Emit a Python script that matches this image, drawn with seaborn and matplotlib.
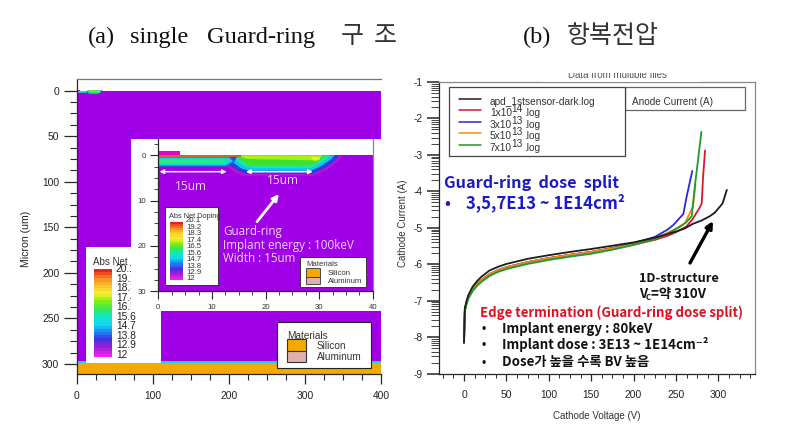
import numpy as np
import pandas as pd
import matplotlib
matplotlib.use("Agg")
import matplotlib.pyplot as plt
import seaborn as sns
from matplotlib.colors import LinearSegmentedColormap
from matplotlib.patches import Rectangle
from matplotlib.ticker import MultipleLocator, FixedLocator

W, H = 785, 430

# IV curves (right panel)
black_v = [0, 0.5, 1, 3, 5, 10, 15, 20, 30, 40, 50, 75, 100, 125, 150, 175, 200, 225, 240, 250, 260, 270, 280, 290, 296, 305, 310]
black_i = [-8.15, -7.6, -7.2, -7.0, -6.85, -6.62, -6.47, -6.35, -6.17, -6.07, -5.99, -5.85, -5.75, -5.66, -5.58, -5.49, -5.4, -5.27, -5.17, -5.1, -5.02, -4.89, -4.8, -4.68, -4.58, -4.33, -3.96]
red_v = [0, 0.5, 1, 3, 5, 10, 15, 20, 30, 40, 50, 75, 100, 125, 150, 175, 200, 225, 240, 250, 262, 270, 277.6, 280.4, 282, 284.3]
red_i = [-8.15, -7.65, -7.25, -7.05, -6.9, -6.7, -6.55, -6.44, -6.27, -6.16, -6.08, -5.94, -5.83, -5.74, -5.66, -5.56, -5.46, -5.33, -5.22, -5.12, -4.97, -4.75, -4.46, -4.33, -3.6, -2.88]
blue_v = [0, 0.5, 1, 3, 5, 10, 15, 20, 30, 40, 50, 75, 100, 125, 150, 175, 200, 225, 240, 247, 258.7, 263, 269.3]
blue_i = [-8.15, -7.65, -7.25, -7.05, -6.9, -6.7, -6.55, -6.44, -6.27, -6.16, -6.08, -5.94, -5.83, -5.74, -5.66, -5.55, -5.42, -5.25, -5.05, -4.92, -4.62, -4.1, -3.44]
orange_v = [0, 0.5, 1, 3, 5, 10, 15, 20, 30, 40, 50, 75, 100, 125, 150, 175, 200, 225, 240, 250, 260.7, 270, 273]
orange_i = [-8.15, -7.65, -7.25, -7.05, -6.9, -6.7, -6.55, -6.44, -6.27, -6.16, -6.08, -5.94, -5.83, -5.74, -5.66, -5.56, -5.45, -5.3, -5.14, -5.02, -4.87, -4.42, -3.8]
green_v = [0, 0.5, 1, 3, 5, 10, 15, 20, 30, 40, 50, 75, 100, 125, 150, 175, 200, 225, 240, 254.8, 262, 268.6, 272.5, 280]
green_i = [-8.15, -7.65, -7.28, -7.1, -6.95, -6.74, -6.6, -6.49, -6.32, -6.21, -6.13, -5.99, -5.88, -5.79, -5.71, -5.6, -5.47, -5.31, -5.16, -4.97, -4.85, -4.68, -3.82, -2.37]
series_names = ["black", "red", "blue", "orange", "green"]
series_colors = ["#1c1c1c", "#d8182c", "#2a2ad0", "#f08a10", "#1f9a2c"]
legend_bases = ["apd_1stsensor-dark.log", "1x10", "3x10", "5x10", "7x10"]
legend_exps = ["", "14", "13", "13", "13"]

# doping legend
level_labels = ["20.1", "19.2", "18.3", "17.4", "16.5", "15.6", "14.7", "13.8", "12.9", "12"]
stripe_levels = [20.1, 19.8, 19.5, 19.2, 18.9, 18.6, 18.3, 18.0, 17.7, 17.4, 17.1, 16.8, 16.5, 16.2,
                 15.9, 15.6, 15.3, 15.0, 14.7, 14.4, 14.1, 13.8, 13.5, 13.2, 12.9, 12.6, 12.3, 12.0]
stripe_colors = ["#f020e8", "#a020d8", "#4030e0", "#2080f0", "#10d8f0", "#10e8c8", "#30e860", "#80ee10",
                 "#f8f030", "#f8c830", "#f88a20", "#e82020"]

# device layers (micron)
purple = "#a000e6"
ring_layers = [
    ("#c010d8", [12.5, 14.5, 16, 29, 31.5, 33.5, 34.4, 14.5], [2.3, 3.9, 4.5, 4.5, 3.2, 1.4, 0, 0]),
    ("#2a40e0", [13, 15, 16.5, 28.8, 31, 33, 33.8, 14.5], [2.0, 3.5, 4.1, 4.1, 2.9, 1.2, 0, 0]),
    ("#10c8e8", [14, 15.5, 17, 28.5, 30.5, 32.2, 32.9, 14.8], [1.6, 2.9, 3.4, 3.4, 2.3, 0.9, 0, 0]),
    ("#18e8a0", [14.6, 16, 17.5, 28.5, 30.3, 31.6, 32.1, 15], [1.2, 2.3, 2.8, 2.8, 1.8, 0.6, 0, 0]),
    ("#40e030", [15, 15.5, 17, 28.5, 30, 31, 31.3, 15], [0.4, 1.2, 2.2, 2.2, 1.3, 0.3, 0, 0]),
    ("#a8f010", [15.3, 16.5, 28, 30, 30.5, 15.3], [0.3, 0.8, 1.1, 1.0, 0, 0]),
    ("#e8f020", [28.4, 29, 30, 30.2, 28.6], [0.4, 1.2, 1.1, 0.4, 0.3]),
]
left_layers = [
    ("#2a60e0", [0, 13.6, 14.4, 13, 0], [0.4, 0.4, 1.3, 2.5, 2.5]),
    ("#10d8e0", [0, 13.2, 13.9, 12.6, 0], [0.5, 0.5, 1.3, 2.25, 2.25]),
    ("#18e8a0", [0, 12.8, 13.2, 12.2, 0], [0.9, 0.9, 1.3, 1.9, 1.9]),
    ("#50e840", [0, 12, 12, 0], [1.2, 1.2, 1.5, 1.6]),
]
main_band_top = [296.4, 299.2]
main_band_bottom = [299.2, 311]
main_band_colors = ["#10d8f0", "#f5a800"]

serif = "Liberation Serif"
kr = "Noto Sans CJK KR"
sans = "Liberation Sans"
bold = [kr, "DejaVu Sans"]

sns.set_theme(style="ticks")
plt.rcParams["font.family"] = [sans, "DejaVu Sans"]
plt.rcParams["mathtext.default"] = "regular"
plt.rcParams["axes.linewidth"] = 0.9
plt.rcParams["axes.unicode_minus"] = False

fig = plt.figure(figsize=(W / 100, H / 100), dpi=100, facecolor="white")


def px_axes(x0, y0, x1, y1, z=1):
    return fig.add_axes([x0 / W, 1 - y1 / H, (x1 - x0) / W, (y1 - y0) / H], zorder=z)


def overlay(z):
    a = px_axes(0, 0, W, H, z)
    a.set_xlim(0, W)
    a.set_ylim(H, 0)
    a.axis("off")
    a.patch.set_alpha(0)
    return a


def draw_device(ax):
    ax.set_facecolor(purple)
    ax.axhspan(ax.get_ylim()[1], 0, color="white", lw=0)
    for color, xs, ys in ring_layers + left_layers:
        ax.fill(xs, ys, color=color, lw=0)
    ax.fill([0, 15.5, 15.5, 0], [0, 0, 0.4, 0.4], color="#b8702a", lw=0)
    ax.fill([0, 4, 4, 0], [-1, -1, 0, 0], color="#e800c8", lw=0)


def stripes(x0, y0, x1, y1, z):
    a = px_axes(x0, y0, x1, y1, z)
    grid = pd.DataFrame({"level": stripe_levels})
    cmap = LinearSegmentedColormap.from_list("doping", stripe_colors)
    sns.heatmap(grid, ax=a, cmap=cmap, cbar=False, xticklabels=False, yticklabels=False, linewidths=0)
    return a


def materials(a, x0, y0, x1, y1, sw, names, size, lw):
    a.add_patch(Rectangle((x0 + 1, y0 + 1), x1 - x0, y1 - y0, fc="#777777", ec="none"))
    a.add_patch(Rectangle((x0, y0), x1 - x0, y1 - y0, fc="white", ec="#222222", lw=lw))
    sx0, sy0, sx1, sy1, sy2, tx = sw
    a.add_patch(Rectangle((sx0, sy0), sx1 - sx0, sy1 - sy0, fc="#f5a800", ec="#333333", lw=lw))
    a.add_patch(Rectangle((sx0, sy1), sx1 - sx0, sy2 - sy1, fc="#e0b0b0", ec="#333333", lw=lw))
    a.text(sx0, sy0 - 3, "Materials", fontsize=size, color="#333333", va="center")
    a.text(tx, (sy0 + sy1) / 2 + 1, names[0], fontsize=size, color="#333333", va="center")
    a.text(tx, (sy1 + sy2) / 2 + 1, names[1], fontsize=size, color="#333333", va="center")


# main simulation panel
ax = px_axes(76.7, 79.3, 381, 374, 1)
ax.set_xlim(0, 400)
ax.set_ylim(311, -12.4)
draw_device(ax)
for top, bottom, color in zip(main_band_top, main_band_bottom, main_band_colors):
    ax.axhspan(top, bottom, color=color, lw=0)
ax.xaxis.set_major_locator(MultipleLocator(100))
ax.xaxis.set_minor_locator(MultipleLocator(25))
ax.yaxis.set_major_locator(MultipleLocator(50))
ax.yaxis.set_minor_locator(MultipleLocator(12.5))
ax.tick_params(axis="y", which="major", length=9.5, width=0.9, labelsize=7.4, pad=3, labelcolor="#222222")
ax.tick_params(axis="y", which="minor", length=5, width=0.8, left=True)
ax.tick_params(axis="x", which="major", length=7, width=0.9, labelsize=7.4, pad=5, labelcolor="#222222")
ax.tick_params(axis="x", which="minor", length=4, width=0.8, bottom=True)
ax.spines["top"].set_color("#777777")
ax.spines["right"].set_visible(False)
ax.set_ylabel("Micron (um)", fontsize=7.6, color="#222222")
ax.yaxis.set_label_coords((31 - 76.7) / (381 - 76.7), 1 - (239 - 79.3) / (374 - 79.3))

low = overlay(2)
low.add_patch(Rectangle((86, 247), 75, 116, fc="white", ec="none"))
low.text(93, 262, "Abs Net Doping", fontsize=7, color="#333333", va="center")
for lab, y in zip(level_labels, np.linspace(269, 355, len(level_labels))):
    low.text(116, y, lab, fontsize=7.4, color="#222222", va="center")
materials(low, 277, 322, 371, 368, (287, 339, 306, 351, 362, 317), ["Silicon", "Aluminum"], 7.2, 0.8)
stripes(94, 269, 112, 357, 2.5)

cover = overlay(3)
cover.add_patch(Rectangle((131, 139), 252, 172, fc="white", ec="none"))

# zoomed inset
ins = px_axes(158.3, 139, 372.7, 291.3, 4)
ins.set_xlim(0, 40)
ins.set_ylim(30, -3.6)
draw_device(ins)
ins.xaxis.set_major_locator(MultipleLocator(10))
ins.xaxis.set_minor_locator(MultipleLocator(2.5))
ins.yaxis.set_major_locator(MultipleLocator(10))
ins.yaxis.set_minor_locator(MultipleLocator(2.5))
ins.tick_params(axis="both", which="major", length=5.5, width=0.8, labelsize=5.6, labelcolor="#333333")
ins.tick_params(axis="both", which="minor", length=3, width=0.6, left=True, bottom=True)
ins.spines["top"].set_visible(False)
ins.spines["right"].set_color("#888888")

top = overlay(5)
top.add_patch(Rectangle((165, 207), 53, 78, fc="white", ec="#222222", lw=0.6))
top.text(169, 217, "Abs Net Doping (", fontsize=5.3, color="#333333", va="center")
for lab, y in zip(level_labels, np.linspace(221, 279, len(level_labels))):
    top.text(186, y, lab, fontsize=5.6, color="#333333", va="center")
materials(top, 300, 257, 366, 287, (306, 268, 320, 276.5, 284, 328), ["Silicon", "Aluminum"], 5.6, 0.6)
stripes(170, 222, 183, 280, 5.5)

# IV panel
iv = pd.concat([
    pd.DataFrame({"v": v, "i": i, "name": n})
    for v, i, n in zip([black_v, red_v, blue_v, orange_v, green_v], [black_i, red_i, blue_i, orange_i, green_i], series_names)
])
ax2 = px_axes(439, 82, 755.3, 373.7, 1)
sns.lineplot(data=iv, x="v", y="i", hue="name", hue_order=series_names, palette=series_colors, sort=False,
             estimator=None, legend=False, lw=1.3, ax=ax2)
ax2.lines[0].set_zorder(4)
ax2.set_xlim(-29.5, 343.6)
ax2.set_ylim(-9, -1)
ax2.xaxis.set_major_locator(MultipleLocator(50))
ax2.xaxis.set_minor_locator(MultipleLocator(12.5))
ax2.yaxis.set_major_locator(MultipleLocator(1))
decades = np.arange(-9, -1)
ax2.yaxis.set_minor_locator(FixedLocator(np.concatenate([d + np.log10(np.arange(2, 10)) for d in decades])))
ax2.tick_params(axis="y", which="major", length=9, width=1.1, labelsize=7.4, pad=3, labelcolor="#222222")
ax2.tick_params(axis="y", which="minor", length=6, width=0.6, left=True)
ax2.tick_params(axis="x", which="major", length=5, width=0.9, labelsize=7.4, pad=7, labelcolor="#222222")
ax2.tick_params(axis="x", which="minor", length=3, width=0.7, bottom=True)
for s in ["top", "right"]:
    ax2.spines[s].set_color("#888888")
ax2.set_xlabel("")
ax2.set_ylabel("")

note = overlay(7)
# title of the IV plot, mostly cut off in the reference
note.text(617, 75, "Data from multiple files", fontsize=7, color="#555555", ha="center", va="center")
note.add_patch(Rectangle((540, 64), 160, 9, fc="white", ec="none", zorder=3))
note.add_patch(Rectangle((540, 77.5), 160, 4, fc="white", ec="none", zorder=3))
note.text(597, 416, "Cathode Voltage (V)", fontsize=7, color="#333333", ha="center", va="center")
note.text(403, 223, "Cathode Current (A)", fontsize=7, color="#333333", ha="center", va="center", rotation=90)

note.add_patch(Rectangle((625, 87), 120, 23, fc="white", ec="#666666", lw=0.9))
note.add_patch(Rectangle((449, 87), 176, 69, fc="white", ec="#444444", lw=0.9))
note.text(632, 102, "Anode Current (A)", fontsize=7.2, color="#333333", va="center")
for base, exp, col, y in zip(legend_bases, legend_exps, series_colors, [99, 110, 121.7, 133.3, 145]):
    note.plot([459, 481], [y, y], color=col, lw=1.1)
    note.text(490, y + 3, base, fontsize=7.3, color="#333333", va="center")
    if exp:
        note.text(511.5, y - 1, exp, fontsize=7.3, color="#333333", va="center")
        note.text(524, y + 3, ".log", fontsize=7.3, color="#333333", va="center")

# titles
for word, x in zip(["(a)", "single", "Guard-ring", "(b)"], [88, 130, 207, 523]):
    note.text(x, 37, word, fontsize=17.6, family=serif, color="#111111", va="center")
note.text(341, 36, "구", fontsize=18, family=kr, color="#333333", va="center")
note.text(374, 36, "조", fontsize=18, family=kr, color="#333333", va="center")
note.text(567, 36, "항복전압", fontsize=18, family=kr, color="#333333", va="center")

# inset annotations
pale = "#f0d8ff"
note.annotate("", xy=(159.5, 171.7), xytext=(226.7, 171.7), arrowprops=dict(arrowstyle="<|-|>", color="white", lw=1.1, mutation_scale=6, shrinkA=0, shrinkB=0))
note.annotate("", xy=(246, 171.7), xytext=(312.7, 171.7), arrowprops=dict(arrowstyle="<|-|>", color="white", lw=1.1, mutation_scale=6, shrinkA=0, shrinkB=0))
note.annotate("", xy=(279, 194), xytext=(257, 221.7), arrowprops=dict(arrowstyle="-|>", color="white", lw=2, mutation_scale=9, shrinkA=0, shrinkB=0))
note.text(175, 186, "15um", fontsize=8.6, color=pale, family="Open Sans", va="center")
note.text(267, 181, "15um", fontsize=8.6, color=pale, family="Open Sans", va="center")
note.text(223, 232, "Guard-ring", fontsize=8.4, color=pale, family="Open Sans", va="center")
note.text(223, 246, "Implant energy : 100keV", fontsize=8.4, color=pale, family="Open Sans", va="center")
note.text(223, 259, "Width : 15um", fontsize=8.4, color=pale, family="Open Sans", va="center")

# IV annotations
note.text(444, 183, "Guard-ring  dose  split", fontsize=11.7, color="#1a1ac8", fontweight="bold", family=bold, va="center")
note.text(444, 203, "•", fontsize=11, color="#1a1ac8", fontweight="bold", family=bold, va="center")
note.text(466, 203, "3,5,7E13 ~ 1E14cm²", fontsize=12, color="#1a1ac8", fontweight="bold", family=bold, va="center")
note.annotate("", xy=(713, 221), xytext=(690, 263), arrowprops=dict(arrowstyle="-|>", color="black", lw=2.4, mutation_scale=10, shrinkA=0, shrinkB=0))
note.text(639, 278, "1D-structure", fontsize=9.2, color="#111111", fontweight="bold", family=bold, va="center")
note.text(639, 294, "V", fontsize=9.4, color="#111111", fontweight="bold", family=bold, va="center")
note.text(646, 297, "C", fontsize=5.6, color="#111111", fontweight="bold", family=bold, va="center")
note.text(651, 294, "=약 310V", fontsize=9.6, color="#111111", fontweight="bold", family=bold, va="center")
note.text(480, 313, "Edge termination (Guard-ring dose split)", fontsize=9.5, color="#e01020", fontweight="bold", family=bold, va="center")
for y, line in zip([329, 345, 362], ["Implant energy : 80keV", "Implant dose : 3E13 ~ 1E14cm⁻²", "Dose가 높을 수록 BV 높음"]):
    note.text(481, y, "•", fontsize=8, color="#111111", fontweight="bold", family=bold, va="center")
    note.text(502, y, line, fontsize=9.6, color="#111111", fontweight="bold", family=bold, va="center")

fig.savefig("out.png", dpi=100)
